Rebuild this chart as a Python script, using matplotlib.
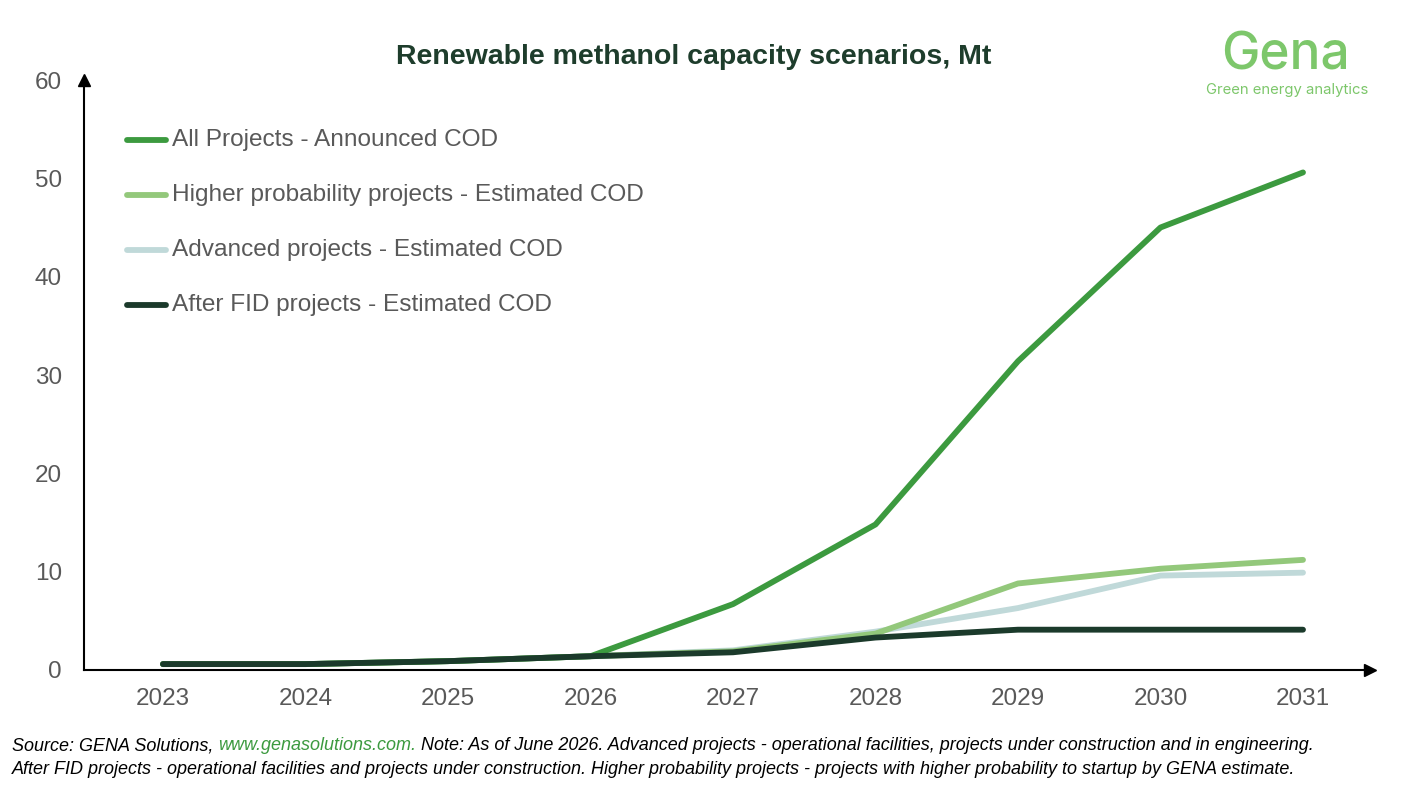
import matplotlib
matplotlib.use("Agg")
import matplotlib.pyplot as plt

# ---- data (Mt) ----
years = [2023, 2024, 2025, 2026, 2027, 2028, 2029, 2030, 2031]
all_projects = [0.6, 0.6, 0.9, 1.4, 6.7, 14.8, 31.4, 45.0, 50.6]
higher_prob = [0.6, 0.6, 0.9, 1.4, 1.9, 3.7, 8.8, 10.3, 11.2]
advanced = [0.6, 0.6, 0.9, 1.4, 2.0, 3.9, 6.3, 9.6, 9.9]
after_fid = [0.6, 0.6, 0.9, 1.4, 1.8, 3.3, 4.1, 4.1, 4.1]

series_labels = [
    "All Projects - Announced COD",
    "Higher probability projects - Estimated COD",
    "Advanced projects - Estimated COD",
    "After FID projects - Estimated COD",
]
y_ticks = [0, 10, 20, 30, 40, 50, 60]

# ---- style ----
GREEN = "#3C9A3F"
LIGHT_GREEN = "#93C87B"
PALE_TEAL = "#C0D9D9"
DARK_GREEN = "#1B3A2B"
LOGO_GREEN = "#7DC76B"
TICK_GRAY = "#595959"

plt.rcParams["font.family"] = ["Liberation Sans", "DejaVu Sans"]

fig = plt.figure(figsize=(14.05, 7.95), dpi=100)
ax = fig.add_axes([84 / 1405, 1 - 670 / 795, (1370 - 84) / 1405, (670 - 80) / 795])

# draw in order so dark line sits on top
lw = 4.2
ax.plot(years, advanced, color=PALE_TEAL, lw=lw, solid_capstyle="round", zorder=2)
ax.plot(years, higher_prob, color=LIGHT_GREEN, lw=lw, solid_capstyle="round", zorder=3)
ax.plot(years, all_projects, color=GREEN, lw=lw, solid_capstyle="round", zorder=4)
ax.plot(years, after_fid, color=DARK_GREEN, lw=lw, solid_capstyle="round", zorder=5)

x0 = 2023 - 79 / 142.5
x1 = 2023 + (1370 - 163) / 142.5
ax.set_xlim(x0, x1)
ax.set_ylim(0, 60)
ax.set_xticks(years)
ax.set_yticks(y_ticks)
ax.tick_params(length=0, labelsize=17.5, colors=TICK_GRAY)
ax.tick_params(axis="x", pad=13)
ax.tick_params(axis="y", pad=16)

for s in ("top", "right"):
    ax.spines[s].set_visible(False)
for s in ("left", "bottom"):
    ax.spines[s].set_linewidth(1.5)
    ax.spines[s].set_color("black")

# axis arrows
ax.plot(1, 0, marker=">", ms=9, color="black", transform=ax.transAxes, clip_on=False)
ax.plot(0, 1, marker="^", ms=9, color="black", transform=ax.transAxes, clip_on=False)

# legend (manual so spacing matches)
legend_colors = [GREEN, LIGHT_GREEN, PALE_TEAL, DARK_GREEN]
for i, (lab, c) in enumerate(zip(series_labels, legend_colors)):
    ypix = 140 + 55 * i
    yf = 1 - ypix / 795
    fig.add_artist(plt.Line2D([127 / 1405, 166 / 1405], [yf, yf], color=c, lw=lw,
                              solid_capstyle="round", transform=fig.transFigure))
    fig.text(172 / 1405, yf, lab, fontsize=17.6, color=TICK_GRAY, va="center", ha="left")

# title
fig.text(694 / 1405, 1 - 57 / 795, "Renewable methanol capacity scenarios, Mt",
         fontsize=20.5, fontweight="bold", color="#1E3D2C", ha="center", va="center")

# logo
fig.text(1286 / 1405, 1 - 70 / 795, "Gena", fontsize=37, color=LOGO_GREEN,
         family="Inter", fontweight="medium", ha="center", va="baseline")
fig.text(1287 / 1405, 1 - 90 / 795, "Green energy analytics", fontsize=10.7,
         color=LOGO_GREEN, family="Inter", ha="center", va="center")

# footnote with coloured link
fig.canvas.draw()
renderer = fig.canvas.get_renderer()
foot_kw = dict(fontsize=13, style="italic", va="center", ha="left")
parts = [
    ("Source: GENA Solutions, ", "black"),
    ("www.genasolutions.com.", "#3C9A3F"),
    (" Note: As of June 2026. Advanced projects - operational facilities, projects under construction and in engineering.", "black"),
]
xpos = 12 / 1405
y1 = 1 - 746 / 795
for txt, col in parts:
    t = fig.text(xpos, y1, txt, color=col, **foot_kw)
    bb = t.get_window_extent(renderer)
    xpos += bb.width / fig.bbox.width
fig.text(12 / 1405, 1 - 769 / 795,
         "After FID projects - operational facilities and projects under construction. "
         "Higher probability projects - projects with higher probability to startup by GENA estimate.",
         color="black", **foot_kw)

fig.savefig("out.png", dpi=100, facecolor="white")
